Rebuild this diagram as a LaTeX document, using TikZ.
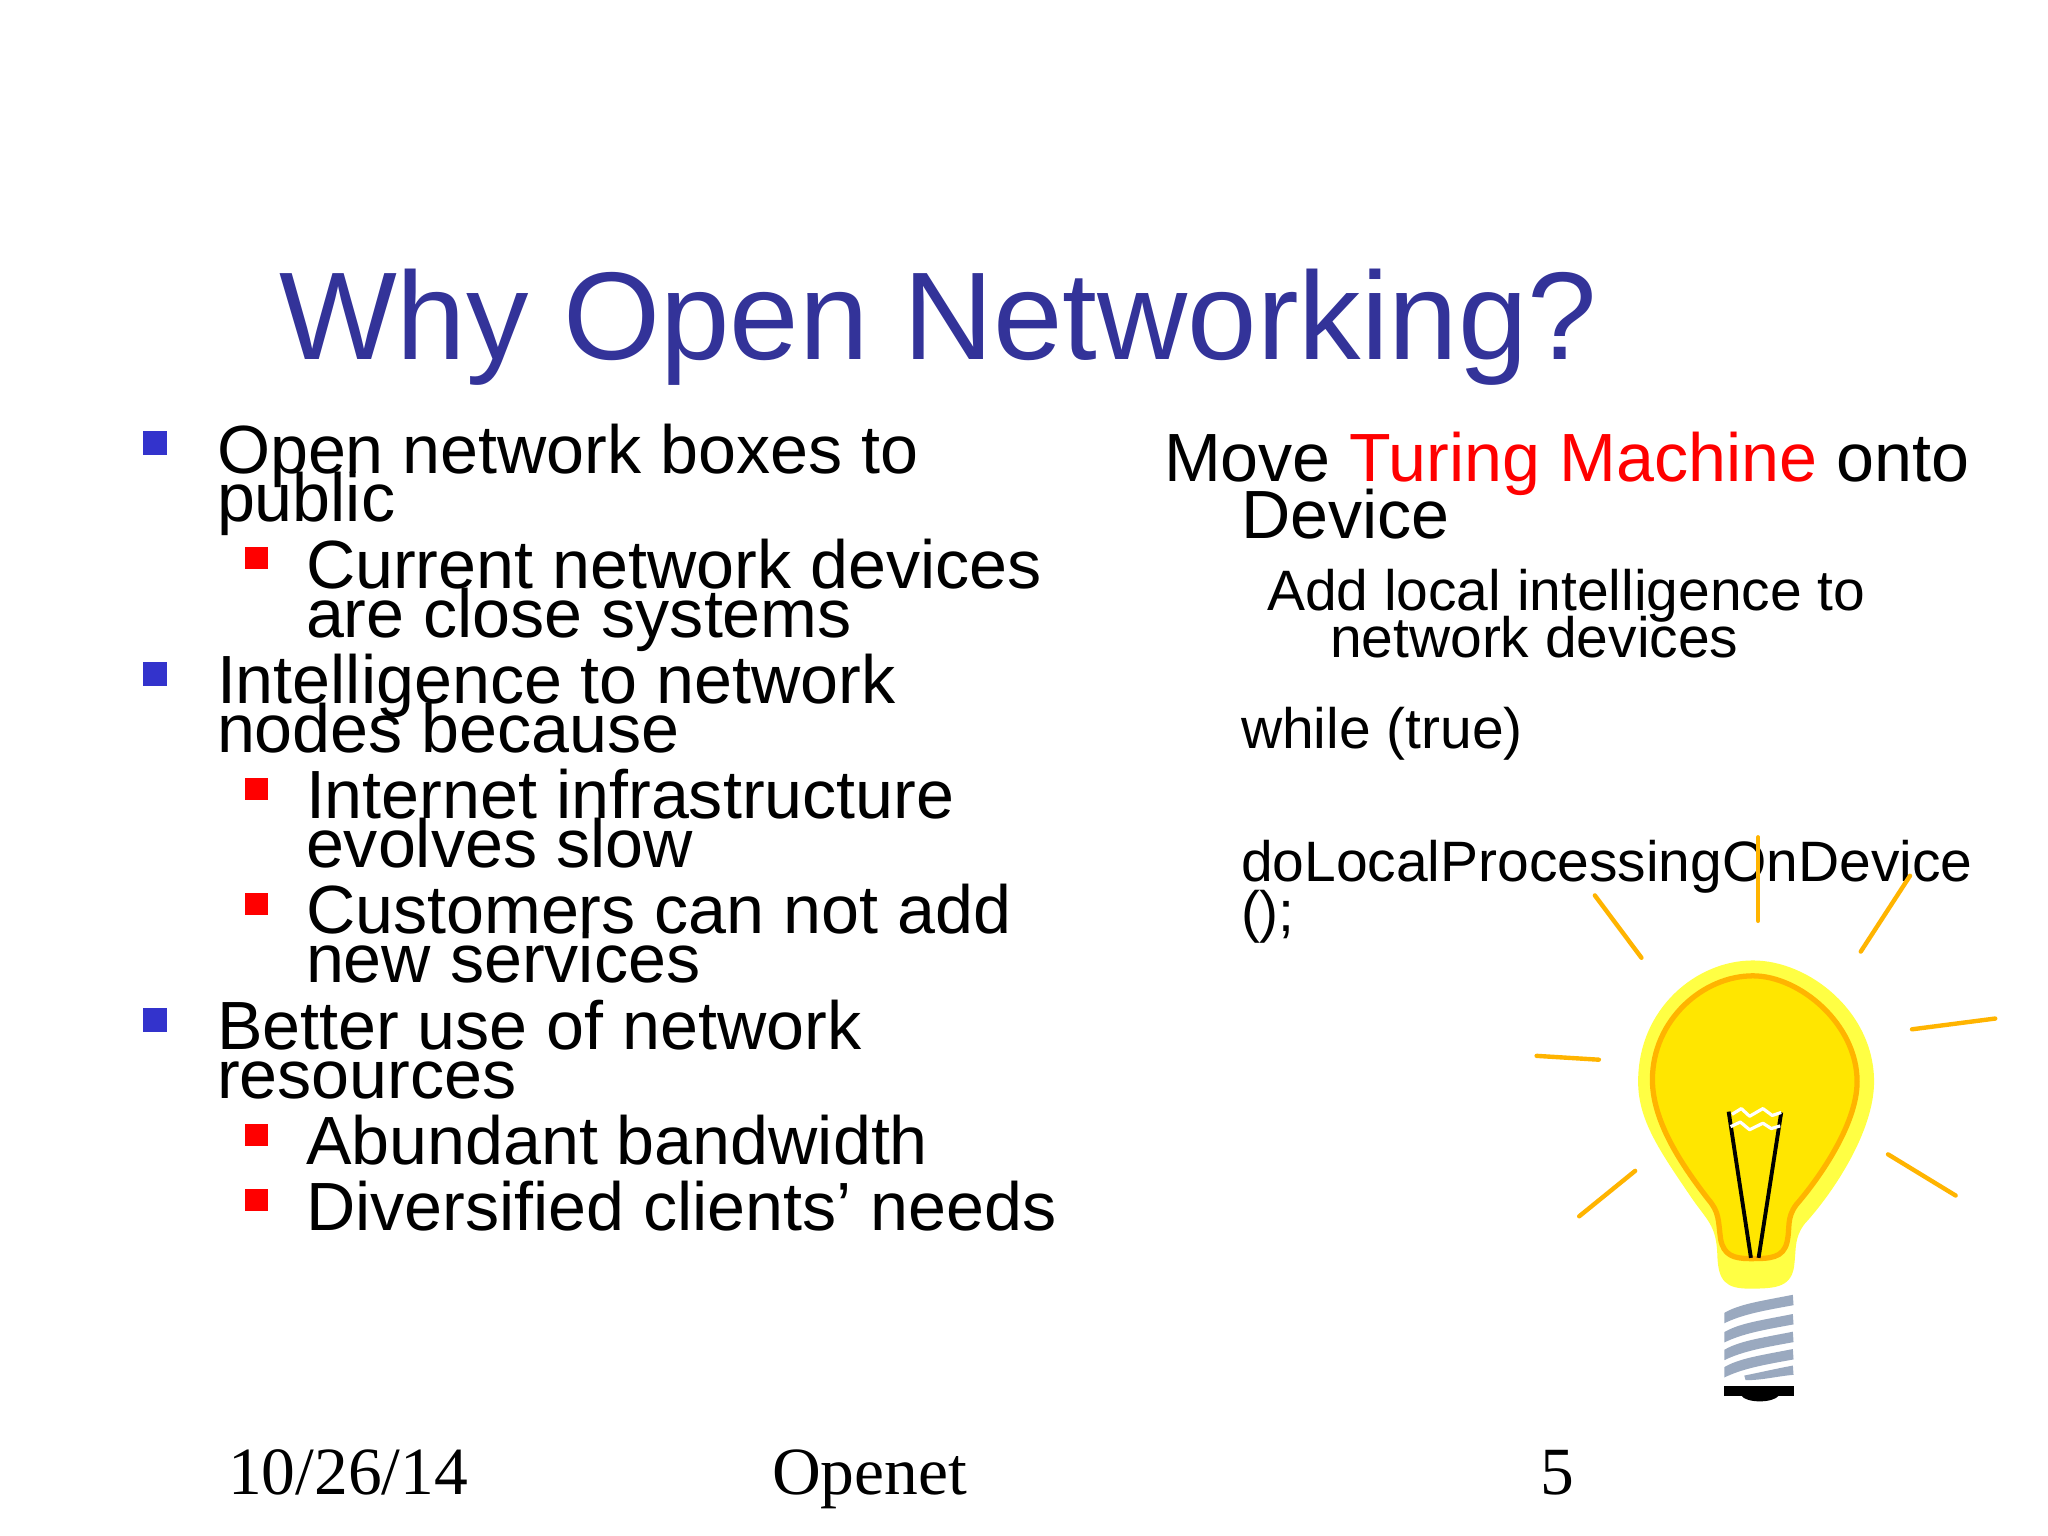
\documentclass[tikz,border=0pt]{standalone}
\usepackage{fontspec}
\setmainfont{Liberation Sans}
\newfontfamily\serifft{Liberation Serif}
\definecolor{titleblue}{HTML}{333399}
\definecolor{bulblue}{HTML}{3333CC}
\definecolor{rayor}{HTML}{FFB400}
\definecolor{halo}{HTML}{FFFF44}
\definecolor{glass}{HTML}{FFE600}
\definecolor{screw}{HTML}{9AA9BF}
\tikzset{
 txt/.style={anchor=base west,inner sep=0pt,outer sep=0pt,text=black},
 big/.style={txt,font=\fontsize{19.4}{20}\selectfont},
 small/.style={txt,font=\fontsize{16.2}{17}\selectfont},
 foot/.style={txt,font=\serifft\fontsize{19.2}{20}\selectfont},
 bb/.style={fill=bulblue,draw=none},
 rb/.style={fill=red,draw=none},
 ray/.style={draw=rayor,line width=1.25pt,line cap=round},
 thread/.style={fill=screw,draw=none},
 wire/.style={draw=black,line width=1.1pt},
 fil/.style={draw=white,line width=.9pt,line join=round},
}
\begin{document}
\begin{tikzpicture}[x=0.01cm,y=-0.01cm]
\useasboundingbox (0,0) rectangle (2048,1536);
\fill[white] (0,0) rectangle (2048,1536);
\node[txt,text=titleblue,font=\fontsize{35.5}{36}\selectfont] (title) at (279,359) {Why Open Networking?};
% bullets
\foreach \y/\n in {431/a,662/b,1008/c}{\path[bb] (143,\y) rectangle (167,\y+24);}
\foreach \y in {547,778,893,1124,1189}{\path[rb] (245,\y) rectangle (268,\y+22);}
\node[big] (l1) at (217,473) {Open network boxes to};
\node[big] (l2) at (217,521) {public};
\node[big] (l3) at (306,588) {Current network devices};
\node[big] (l4) at (306,637) {are close systems};
\node[big] (l5) at (217,703) {Intelligence to network};
\node[big] (l6) at (217,752) {nodes because};
\node[big] (l7) at (306,818) {Internet infrastructure};
\node[big] (l8) at (306,867) {evolves slow};
\node[big] (l9) at (306,933) {Customers can not add};
\node[big] (l10) at (306,982) {new services};
\node[big] (l11) at (217,1049) {Better use of network};
\node[big] (l12) at (217,1098) {resources};
\node[big] (l13) at (306,1164) {Abundant bandwidth};
\node[big] (l14) at (306,1230) {Diversified clients’ needs};
% right
\node[big] (r1) at (1164,481) {Move \textcolor{red}{Turing Machine} onto};
\node[big] (r2) at (1241,538) {Device};
\node[small] (r3) at (1267,610) {Add local intelligence to};
\node[small] (r4) at (1330,657) {network devices};
\node[small] (r5) at (1241,748) {while (true)};
\node[small] (r6) at (1241,881) {doLocalProcessingOnDevice};
\node[small] (r7) at (1241,931) {();};
% footer
\node[foot] (f1) at (228,1494) {10/26/14};
\node[foot] (f2) at (772,1494) {Openet};
\node[foot] (f3) at (1540,1494) {5};
% bulb, in crop coordinates
\begin{scope}[shift={(1500,820)},x=0.003333cm,y=-0.00385cm]
 \foreach \a/\b/\c/\d in {776/45/776/262, 285/196/425/358, 1232/145/1084/342, 1238/544/1488/516, 110/613/297/623, 1166/869/1369/976, 406/912/238/1030}{
   \draw[ray] (\a,\b) -- (\c,\d);}
 % halo
 \fill[halo] (760,365) .. controls (930,365) and (1124,500) .. (1124,680)
   .. controls (1124,810) and (1000,970) .. (915,1050)
   .. controls (885,1085) and (890,1110) .. (885,1150)
   .. controls (880,1215) and (830,1218) .. (750,1218)
   .. controls (680,1218) and (655,1200) .. (653,1130)
   .. controls (650,1050) and (620,1040) .. (570,975)
   .. controls (480,860) and (415,780) .. (415,680)
   .. controls (415,490) and (590,365) .. (760,365) -- cycle;
 % glass
 \filldraw[fill=glass,draw=rayor,line width=1.5pt] (760,405) .. controls (900,405) and (1073,530) .. (1073,680)
   .. controls (1073,790) and (960,930) .. (890,1000)
   .. controls (860,1035) and (872,1060) .. (863,1095)
   .. controls (852,1140) and (810,1140) .. (750,1140)
   .. controls (700,1140) and (672,1130) .. (663,1090)
   .. controls (655,1040) and (660,1020) .. (625,985)
   .. controls (540,890) and (458,780) .. (458,675)
   .. controls (458,520) and (610,405) .. (760,405) -- cycle;
 % wires
 \draw[wire] (687,758) -- (754,1138);
 \draw[wire] (845,760) -- (777,1138);
 % filament
 \draw[fil] (697,765) -- (725,750) -- (750,770) -- (790,750) -- (818,768) -- (845,760);
 \draw[fil] (693,797) -- (722,785) -- (750,805) -- (790,788) -- (815,802) -- (842,795);
 % screw threads
 \foreach \dy in {-4,46,92,137}{
  \fill[thread] (674,1285+\dy) .. controls (720,1262+\dy) and (780,1255+\dy) .. (880,1238+\dy)
    -- (882,1265+\dy) .. controls (800,1278+\dy) and (730,1288+\dy) .. (674,1312+\dy) -- cycle;}
 \fill[thread] (734,1444) .. controls (780,1436) and (830,1426) .. (880,1418) -- (882,1442) .. controls (830,1446) and (790,1456) .. (738,1456) -- cycle;
 % cap
 \fill[black] (673,1470) rectangle (883,1496);
 \fill[black] (725,1496) .. controls (740,1516) and (820,1516) .. (838,1496) -- cycle;
\end{scope}
\end{tikzpicture}
\end{document}
